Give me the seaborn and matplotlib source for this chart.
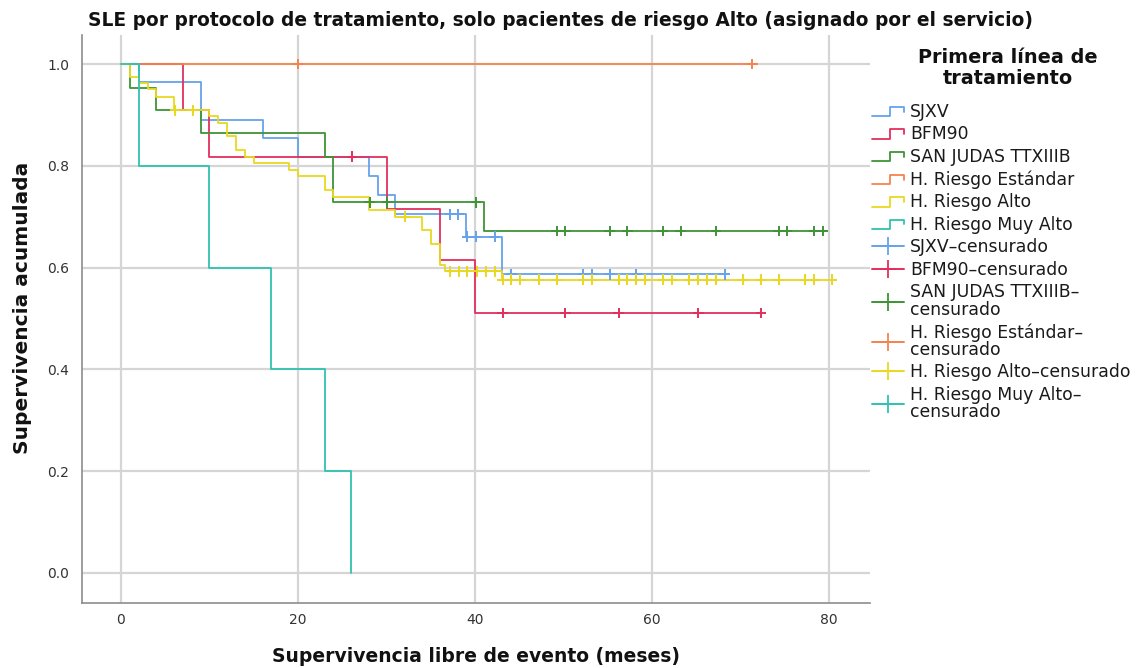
import numpy as np
import pandas as pd
import matplotlib
matplotlib.use("Agg")
import matplotlib.pyplot as plt
from matplotlib.lines import Line2D
from matplotlib.legend_handler import HandlerBase
import seaborn as sns

# ---------------- data ----------------
groups = ["SJXV", "BFM90", "SAN JUDAS TTXIIIB", "H. Riesgo Estándar",
          "H. Riesgo Alto", "H. Riesgo Muy Alto"]

sjxv_t = [0, 2, 9, 16, 20, 28, 29, 31, 39, 43, 68.2]
sjxv_s = [1.0, 0.964, 0.890, 0.854, 0.818, 0.780, 0.742, 0.705, 0.661, 0.587, 0.587]
sjxv_c = [37.2, 38.1, 39.1, 40.1, 42.2, 44.1, 52.2, 53.2, 55.2, 58.2, 68.2]

bfm_t = [0, 7, 10, 30, 36, 40, 72.3]
bfm_s = [1.0, 0.909, 0.818, 0.716, 0.614, 0.511, 0.511]
bfm_c = [26.1, 43.1, 50.2, 56.2, 65.2, 72.3]

sj_t = [0, 1, 4, 9, 23, 24, 41, 79.6]
sj_s = [1.0, 0.953, 0.909, 0.864, 0.818, 0.728, 0.672, 0.672]
sj_c = [28.1, 30.1, 40.1, 49.2, 50.2, 55.2, 57.2, 61.2, 63.2, 67.2, 74.3, 75.2, 78.3, 79.3]

est_t = [0, 71.3]
est_s = [1.0, 1.0]
est_c = [20.0, 71.3]

alto_t = [0, 1, 2, 3, 4, 6, 10, 11, 12, 13, 14, 15, 19, 20, 23, 24, 28, 31, 34,
          35, 36, 36.6, 43, 80.5]
alto_s = [1.0, 0.974, 0.962, 0.950, 0.936, 0.909, 0.897, 0.884, 0.858, 0.831,
          0.818, 0.805, 0.792, 0.779, 0.752, 0.739, 0.713, 0.700, 0.673, 0.646,
          0.605, 0.593, 0.576, 0.576]
alto_c = [6.1, 8.1, 32.1, 37.2, 38.2, 39.1, 40.2, 41.2, 42.3, 43.1, 44.1, 45.1,
          47.2, 49.2, 52.2, 53.2, 56.2, 57.2, 58.2, 59.2, 61.2, 62.2, 64.2, 65.2,
          66.2, 67.2, 70.2, 72.3, 74.3, 77.3, 78.3, 80.3]

muy_t = [0, 2, 10, 17, 23, 26]
muy_s = [1.0, 0.8, 0.6, 0.4, 0.2, 0.0]
muy_c = []

x_ticks = [0, 20, 40, 60, 80]
y_ticks = [0.0, 0.2, 0.4, 0.6, 0.8, 1.0]

colors = ["#66A3EC", "#E2305C", "#3F9437", "#F5834F", "#E9D820", "#2FC3B1"]

title = "SLE por protocolo de tratamiento, solo pacientes de riesgo Alto (asignado por el servicio)"
xlabel = "Supervivencia libre de evento (meses)"
ylabel = "Supervivencia acumulada"
legend_title = "Primera línea de\ntratamiento"
cens_labels = ["SJXV–censurado", "BFM90–censurado", "SAN JUDAS TTXIIIB–\ncensurado",
               "H. Riesgo Estándar–\ncensurado", "H. Riesgo Alto–censurado",
               "H. Riesgo Muy Alto–\ncensurado"]

# ---------------- tidy tables ----------------
curves = [(sjxv_t, sjxv_s, sjxv_c), (bfm_t, bfm_s, bfm_c), (sj_t, sj_s, sj_c),
          (est_t, est_s, est_c), (alto_t, alto_s, alto_c), (muy_t, muy_s, muy_c)]
line_rows, cens_rows = [], []
for g, (t, s, c) in zip(groups, curves):
    for ti, si in zip(t, s):
        line_rows.append((g, ti, si))
    t_arr, s_arr = np.asarray(t), np.asarray(s)
    for ci in c:
        idx = np.searchsorted(t_arr, ci, side="right") - 1
        cens_rows.append((g, ci, s_arr[idx]))
lines_df = pd.DataFrame(line_rows, columns=["grupo", "t", "s"])
cens_df = pd.DataFrame(cens_rows, columns=["grupo", "t", "s"])
palette = dict(zip(groups, colors))

# ---------------- figure ----------------
sns.set_theme(style="white")
plt.rcParams["font.family"] = ["DejaVu Sans"]

fig = plt.figure(figsize=(11.4, 6.68), dpi=100)
ax = fig.add_axes([82 / 1140, 1 - 603 / 668, 788 / 1140, 568 / 668])

for g in groups:
    sub = lines_df[lines_df["grupo"] == g]
    sns.lineplot(data=sub, x="t", y="s", color=palette[g], drawstyle="steps-post",
                 estimator=None, sort=False, linewidth=1.3, ax=ax, legend=False,
                 zorder=3)

sns.scatterplot(data=cens_df, x="t", y="s", hue="grupo", palette=palette,
                hue_order=groups, marker="+", s=60, linewidth=1.4, ax=ax,
                legend=False, zorder=4)

ax.set_xlim(-4.4, 84.6)
ax.set_ylim(-0.059, 1.057)
ax.set_xticks(x_ticks)
ax.set_yticks(y_ticks)
ax.set_xticklabels([str(v) for v in x_ticks])
ax.set_yticklabels([f"{v:.1f}" for v in y_ticks])
ax.grid(True, color="#d5d5d5", linewidth=1.6)
ax.set_axisbelow(True)
for sp in ["top", "right"]:
    ax.spines[sp].set_visible(False)
for sp in ["left", "bottom"]:
    ax.spines[sp].set_color("#8c8c8c")
    ax.spines[sp].set_linewidth(1.2)
ax.tick_params(axis="both", length=0, labelsize=10, labelcolor="#333333")
ax.tick_params(axis="x", pad=7)
ax.tick_params(axis="y", pad=9)

ax.set_xlabel(xlabel, fontsize=13.5, fontweight="bold", color="#111111")
ax.set_ylabel(ylabel, fontsize=14.5, fontweight="bold", color="#111111")
ax.xaxis.set_label_coords(0.5, -0.078)
ax.yaxis.set_label_coords(-0.063, 0.52)

fig.text(561 / 1140, 1 - 20 / 668, title, ha="center", va="center", fontsize=13.45,
         fontweight="bold", color="#111111")

# legend title as separate centred text
fig.text(1008 / 1140, 1 - 68 / 668, legend_title, ha="center", va="center",
         fontsize=13.9, fontweight="bold", color="#111111", linespacing=1.15,
         multialignment="center")


# ---------------- legend ----------------
class StepHandler(HandlerBase):
    def create_artists(self, legend, orig_handle, xdescent, ydescent, width,
                       height, fontsize, trans):
        xs = np.array([0.0, 0.55, 0.55, 1.0, 1.0]) * width - xdescent
        ys = np.array([0.05, 0.05, 0.85, 0.85, 0.45]) * height - ydescent
        ln = Line2D(xs, ys, color=orig_handle.get_color(), linewidth=1.3,
                    transform=trans)
        return [ln]


step_handles = [Line2D([], [], color=c) for c in colors]
cens_handles = [Line2D([], [], color=c, linewidth=1.4, marker="+",
                       markersize=13, markeredgewidth=1.3) for c in colors]
handles = step_handles + cens_handles
labels = groups + cens_labels
hmap = {h: StepHandler() for h in step_handles}

leg = fig.legend(handles, labels, handler_map=hmap, loc="upper left",
                 bbox_to_anchor=(872 / 1140, 1 - 103 / 668), frameon=False,
                 fontsize=12.4, handlelength=1.85, handletextpad=0.35,
                 labelspacing=0.26, borderaxespad=0, borderpad=0)
for t in leg.get_texts():
    t.set_color("#1a1a1a")
    t.set_linespacing(0.95)

fig.savefig("out.png", dpi=100)
